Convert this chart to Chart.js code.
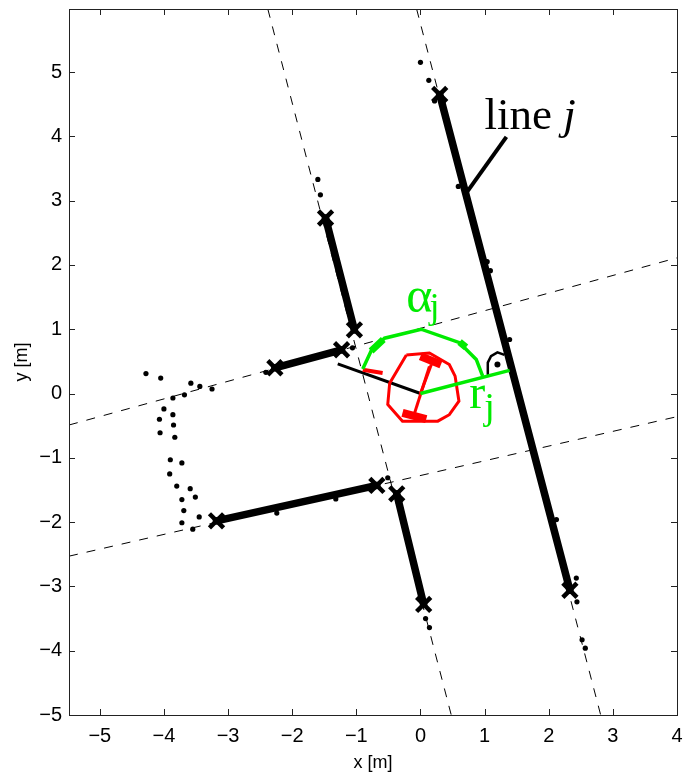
<!DOCTYPE html>
<html>
<head>
<meta charset="utf-8">
<script src="https://cdn.jsdelivr.net/npm/chart.js@4.4.1/dist/chart.umd.min.js"></script>
<style>
  html, body { margin: 0; padding: 0; background: #fff; }
  #wrap { width: 688px; height: 779px; }
</style>
</head>
<body>
<div id="wrap"><canvas id="c"></canvas></div>
<script>
// ---------- axis ranges & tick labels ----------
const xRange = [-5.48, 4];
const yRange = [-5, 5.98];
const xTicks = [-5, -4, -3, -2, -1, 0, 1, 2, 3, 4];
const yTicks = [-5, -4, -3, -2, -1, 0, 1, 2, 3, 4, 5];

// ---------- dashed (infinite) lines ----------
const dashLine1 = [[-2.38, 5.98], [0.48, -5]];
const dashLine2 = [[-0.06, 5.98], [2.81, -5]];
const dashLine3 = [[-5.48, -0.49], [4, 2.11]];
const dashLine4 = [[-5.48, -2.53], [4, -0.36]];

// ---------- extracted wall segments (endpoints marked with x) ----------
const segA = [[0.30, 4.65], [2.33, -3.06]];
const segB = [[-1.48, 2.73], [-1.03, 0.99]];
const segC = [[-2.27, 0.40], [-1.23, 0.68]];
const segD = [[-3.18, -1.98], [-0.68, -1.43]];
const segE = [[-0.37, -1.56], [0.05, -3.28]];

// ---------- raw scan points ----------
const scanPoints = [
  [-4.28, 0.31], [-4.05, 0.24], [-3.58, 0.16], [-3.44, 0.11], [-3.25, 0.07],
  [-3.86, -0.07], [-3.68, -0.02], [-4.00, -0.24], [-3.86, -0.33], [-4.07, -0.40],
  [-3.85, -0.49], [-4.06, -0.61], [-3.83, -0.68], [-3.90, -1.03], [-3.72, -1.08],
  [-3.91, -1.25], [-3.80, -1.44], [-3.59, -1.48], [-3.72, -1.65], [-3.51, -1.61],
  [-3.69, -1.82], [-3.45, -1.92], [-3.72, -2.01], [-3.55, -2.11],
  [0.00, 5.15], [0.13, 4.87], [0.22, 4.55], [0.59, 3.22], [1.04, 2.05], [1.09, 1.91],
  [1.39, 0.84], [1.96, -1.65], [2.12, -1.96], [2.43, -2.87], [2.44, -3.24],
  [2.52, -3.83], [2.57, -3.96],
  [-1.60, 3.33], [-1.56, 3.09], [-1.38, 2.35],
  [-1.06, 0.71], [-2.41, 0.33],
  [-2.24, -1.86], [-1.32, -1.64], [-0.51, -1.31],
  [0.08, -3.50], [0.14, -3.64]
];

// ---------- robot footprint (red) ----------
const robotOutline = [
  [-0.22, 0.60], [0.14, 0.63], [0.45, 0.45], [0.54, 0.27], [0.60, -0.12],
  [0.45, -0.33], [0.27, -0.43], [-0.28, -0.43], [-0.51, -0.17], [-0.48, 0.16], [-0.22, 0.60]
];
const robotInner1 = [[0.00, 0.00], [0.17, 0.45]];
const robotInner2 = [[-0.09, -0.30], [0.14, 0.42]];
const robotBlobTop = [[0.00, 0.58], [0.32, 0.45]];
const robotBlobBottom = [[-0.28, -0.30], [0.09, -0.40]];
const robotWedge = [[-0.90, 0.37], [-0.59, 0.32]];

// ---------- line parameters (green) ----------
const alphaArc = [[-0.90, 0.38], [-0.77, 0.66], [-0.56, 0.86], [0.01, 1.00], [0.61, 0.79], [0.87, 0.53], [0.97, 0.27]];
const alphaArcThick1 = [[-0.77, 0.66], [-0.58, 0.84]];
const alphaArcThick2 = [[0.61, 0.80], [0.71, 0.72]];
const rLine = [[0.00, 0.00], [1.39, 0.36]];

// ---------- black helpers ----------
const headingLine = [[0.00, 0.00], [-1.29, 0.46]];
const leaderLine = [[1.34, 3.99], [0.73, 3.14]];
const rightAngleArc = [[1.04, 0.29], [1.05, 0.48], [1.10, 0.58], [1.20, 0.64], [1.31, 0.60]];
const rightAngleDot = [[1.20, 0.45]];

// ---------- text annotations ----------
const GREEN = 'rgb(0,235,0)';
const RED = 'rgb(255,0,0)';
const annotations = [
  { x: 1.00, y: 4.12, parts: [{ t: 'line ', style: '', size: 45 }, { t: 'j', style: 'italic ', size: 45 }], color: '#000' },
  { x: -0.22, y: 1.27, parts: [{ t: 'α', style: '', size: 50 }, { t: 'j', style: '', size: 36, dy: 6, dx: -3 }], color: GREEN },
  { x: 0.76, y: -0.23, parts: [{ t: 'r', style: '', size: 48 }, { t: 'j', style: '', size: 38, dy: 11, dx: -1 }], color: GREEN }
];

const pts = a => a.map(p => ({ x: p[0], y: p[1] }));

function lineDS(arr, color, width, extra) {
  return Object.assign({
    data: pts(arr), showLine: true, borderColor: color, backgroundColor: color,
    borderWidth: width, pointRadius: 0, pointHoverRadius: 0, fill: false, tension: 0
  }, extra || {});
}
function segDS(arr) {
  return lineDS(arr, '#000', 7.5, {
    pointRadius: 10, pointStyle: 'crossRot', pointBorderWidth: 4.5,
    pointBorderColor: '#000', pointBackgroundColor: '#000', borderCapStyle: 'round'
  });
}

const datasets = [
  lineDS(alphaArcThick1, GREEN, 7),
  lineDS(alphaArcThick2, GREEN, 7),
  lineDS(alphaArc, GREEN, 3.5),
  lineDS(rLine, GREEN, 3.5),
  lineDS(robotBlobTop, RED, 8),
  lineDS(robotBlobBottom, RED, 8),
  lineDS(robotWedge, RED, 4),
  lineDS(robotInner1, RED, 3),
  lineDS(robotInner2, RED, 3),
  lineDS(robotOutline, RED, 3),
  lineDS(headingLine, '#000', 3),
  lineDS(leaderLine, '#000', 4),
  lineDS(rightAngleArc, '#000', 2.5),
  { data: pts(rightAngleDot), showLine: false, pointRadius: 3, pointBackgroundColor: '#000', pointBorderColor: '#000', pointBorderWidth: 0 },
  segDS(segA), segDS(segB), segDS(segC), segDS(segD), segDS(segE),
  { data: pts(scanPoints), showLine: false, pointRadius: 2.6, pointBackgroundColor: '#000', pointBorderColor: '#000', pointBorderWidth: 0 },
  lineDS(dashLine1, '#000', 1, { borderDash: [9, 9] }),
  lineDS(dashLine2, '#000', 1, { borderDash: [9, 9] }),
  lineDS(dashLine3, '#000', 1, { borderDash: [9, 9] }),
  lineDS(dashLine4, '#000', 1, { borderDash: [9, 9] })
];

const minus = v => String(v).replace('-', '\u2212');

const framePlugin = {
  id: 'frameTicks',
  afterDatasetsDraw(chart) {
    const { ctx, chartArea: a, scales } = chart;
    ctx.save();
    annotations.forEach(an => {
      let px = scales.x.getPixelForValue(an.x);
      const py = scales.y.getPixelForValue(an.y);
      ctx.fillStyle = an.color;
      ctx.textBaseline = 'alphabetic';
      ctx.textAlign = 'left';
      an.parts.forEach(p => {
        ctx.font = p.style + p.size + 'px "Liberation Serif", "Times New Roman", serif';
        px += (p.dx || 0);
        ctx.fillText(p.t, px, py + (p.dy || 0));
        px += ctx.measureText(p.t).width;
      });
    });
    ctx.strokeStyle = '#222';
    ctx.lineWidth = 1;
    ctx.strokeRect(Math.round(a.left) + 0.5, Math.round(a.top) + 0.5, Math.round(a.right - a.left), Math.round(a.bottom - a.top));
    const L = 6;
    ctx.beginPath();
    xTicks.forEach(v => {
      const x = Math.round(scales.x.getPixelForValue(v)) + 0.5;
      ctx.moveTo(x, a.bottom); ctx.lineTo(x, a.bottom - L);
      ctx.moveTo(x, a.top); ctx.lineTo(x, a.top + L);
    });
    yTicks.forEach(v => {
      const y = Math.round(scales.y.getPixelForValue(v)) + 0.5;
      ctx.moveTo(a.left, y); ctx.lineTo(a.left + L, y);
      ctx.moveTo(a.right, y); ctx.lineTo(a.right - L, y);
    });
    ctx.stroke();
    ctx.restore();
  }
};

new Chart(document.getElementById('c'), {
  type: 'scatter',
  data: { datasets },
  options: {
    responsive: true,
    maintainAspectRatio: false,
    animation: false,
    events: [],
    layout: { autoPadding: false, padding: { left: 0, right: 11, top: 9, bottom: 0 } },
    plugins: { legend: { display: false }, tooltip: { enabled: false } },
    scales: {
      x: {
        type: 'linear', min: xRange[0], max: xRange[1],
        afterBuildTicks: s => { s.ticks = xTicks.map(v => ({ value: v })); },
        afterFit: s => { s.height = 64; s.paddingLeft = 0; s.paddingRight = 0; },
        grid: { display: false, drawTicks: false },
        border: { display: false },
        ticks: { color: '#000', padding: 9, maxRotation: 0, font: { family: '"Liberation Sans", Arial, sans-serif', size: 20 }, callback: v => minus(v) },
        title: { display: true, text: 'x [m]', color: '#000', padding: { top: 0, bottom: 5 }, font: { family: '"Liberation Sans", Arial, sans-serif', size: 18 } }
      },
      y: {
        type: 'linear', min: yRange[0], max: yRange[1],
        afterBuildTicks: s => { s.ticks = yTicks.map(v => ({ value: v })); },
        afterFit: s => { s.width = 69; s.paddingTop = 0; s.paddingBottom = 0; },
        grid: { display: false, drawTicks: false },
        border: { display: false },
        ticks: { color: '#000', padding: 7, font: { family: '"Liberation Sans", Arial, sans-serif', size: 20 }, callback: v => minus(v) },
        title: { display: true, text: 'y [m]', color: '#000', padding: { top: 11, bottom: 0 }, font: { family: '"Liberation Sans", Arial, sans-serif', size: 18 } }
      }
    }
  },
  plugins: [framePlugin]
});
</script>
</body>
</html>
